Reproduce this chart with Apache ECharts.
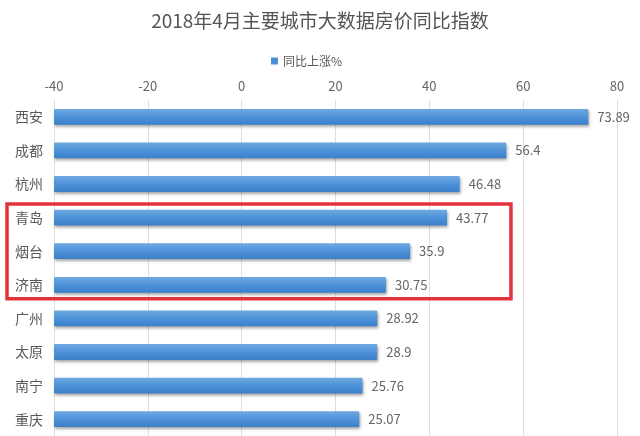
<!DOCTYPE html>
<html>
<head>
<meta charset="utf-8">
<script src="https://cdn.jsdelivr.net/npm/echarts@6/dist/echarts.min.js"></script>
<style>html,body{margin:0;padding:0;background:#fff;}#c{width:640px;height:436px;}</style>
</head>
<body>
<div id="c"></div>
<script>
const titleText = '2018年4月主要城市大数据房价同比指数';
const seriesName = '同比上涨%';
const cities = ['西安', '成都', '杭州', '青岛', '烟台', '济南', '广州', '太原', '南宁', '重庆'];
const values = [73.89, 56.4, 46.48, 43.77, 35.9, 30.75, 28.92, 28.9, 25.76, 25.07];
const xTicks = [-40, -20, 0, 20, 40, 60, 80];
const highlighted = ['青岛', '济南'];

const FONT = '"Noto Sans CJK SC", "Noto Sans", sans-serif';
const xMin = xTicks[0], xMax = xTicks[xTicks.length - 1];
const chart = echarts.init(document.getElementById('c'), null, {renderer: 'canvas'});

const barGradient = new echarts.graphic.LinearGradient(0, 0, 0, 1, [
  {offset: 0, color: '#6fa9e2'},
  {offset: 0.5, color: '#4e92d8'},
  {offset: 1, color: '#3b7fca'}
]);

chart.setOption({
  backgroundColor: '#ffffff',
  animation: false,
  textStyle: {fontFamily: FONT},
  title: {
    text: titleText, left: 'center', top: 6,
    textStyle: {fontSize: 19, fontWeight: 'normal', color: '#555555', fontFamily: FONT}
  },
  legend: {
    data: [{name: seriesName, icon: 'rect'}], top: 50, left: 266,
    itemWidth: 7, itemHeight: 7, itemGap: 4,
    textStyle: {fontSize: 12, color: '#595959', fontFamily: FONT}
  },
  grid: {left: 54, right: 23, top: 100, bottom: 0, containLabel: false},
  xAxis: {
    type: 'value', position: 'top', min: xMin, max: xMax, interval: 20,
    axisLine: {show: false}, axisTick: {show: false},
    axisLabel: {color: '#666666', fontSize: 13, margin: 7, fontFamily: FONT},
    splitLine: {show: true, lineStyle: {color: '#dedede', width: 1}}
  },
  yAxis: {
    type: 'category', data: cities, inverse: true,
    axisLine: {show: false}, axisTick: {show: false},
    axisLabel: {color: '#595959', fontSize: 14, margin: 11, fontFamily: FONT},
    splitLine: {show: false}
  },
  series: [{
    name: seriesName, type: 'custom',
    itemStyle: {color: '#4a8fd6'},
    encode: {x: 0, y: 1},
    data: values.map((v, i) => [v, i]),
    renderItem: function (params, api) {
      const v = api.value(0), idx = api.value(1);
      const start = api.coord([xMin, idx]);
      const end = api.coord([v, idx]);
      const band = api.size([0, 1])[1];
      const h = band * 0.47;
      return {
        type: 'group',
        children: [{
          type: 'rect',
          shape: {x: start[0], y: start[1] - h / 2, width: end[0] - start[0], height: h, r: 1},
          style: {
            fill: barGradient,
            shadowColor: 'rgba(0,0,0,0.35)', shadowBlur: 3, shadowOffsetX: 1, shadowOffsetY: 2
          }
        }, {
          type: 'text',
          x: end[0] + 9, y: end[1],
          style: {
            text: String(v), fill: '#666666', fontSize: 13, fontFamily: FONT,
            align: 'left', verticalAlign: 'middle'
          }
        }]
      };
    }
  }]
});

// red highlight box around the highlighted rows, positioned via the axes
const topY = chart.convertToPixel({yAxisIndex: 0}, cities.indexOf(highlighted[0]));
const botY = chart.convertToPixel({yAxisIndex: 0}, cities.indexOf(highlighted[1]));
const rightX = chart.convertToPixel({xAxisIndex: 0}, 57.4);
chart.setOption({
  graphic: [{
    type: 'rect', z: 100,
    shape: {x: 7, y: topY - 13.5, width: rightX - 7, height: botY - topY + 27.5},
    style: {fill: 'none', stroke: '#e2323b', lineWidth: 3.5}
  }]
});
</script>
</body>
</html>
